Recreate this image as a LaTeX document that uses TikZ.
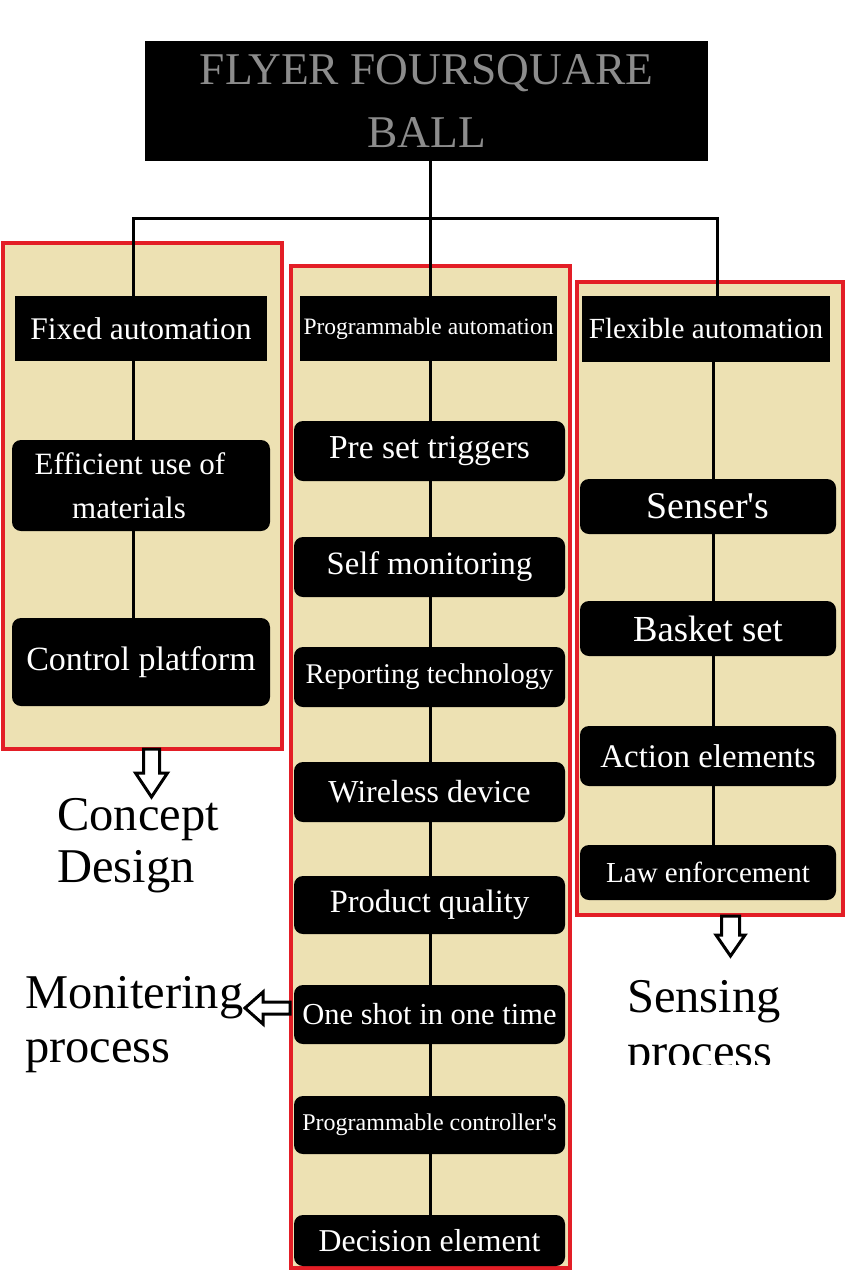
\documentclass[tikz,border=0pt]{standalone}
\usepackage{fontspec}
\setmainfont{Liberation Serif}
\newcommand\myfs[1]{\fontsize{#1}{#1}\selectfont}
\newcommand\myfsb[2]{\fontsize{#1}{#2}\selectfont}
\definecolor{panelbg}{HTML}{EDE1B3}
\definecolor{panelred}{HTML}{E31E26}
\definecolor{titlegray}{HTML}{8C8C8C}
\tikzset{
  panel/.style={fill=panelbg, draw=panelred, line width=4pt},
  box/.style={fill=black, text=white, inner sep=0pt, rounded corners=9pt, align=center},
  sqbox/.style={box, rounded corners=0pt},
  link/.style={draw=black, line width=3pt},
  hollow/.style={fill=white, draw=black, line width=3pt, line join=miter},
  lbl/.style={inner sep=0pt, anchor=base west, font=\myfs{48.5}},
}
\begin{document}
\begin{tikzpicture}[x=1pt,y=-1pt]
\useasboundingbox (0,0) rectangle (853,1280);
% panels
\draw[panel] (3,243) rectangle (282,749);
\draw[panel] (291,266) rectangle (570,1268);
\draw[panel] (577,282) rectangle (843,915);

% title
\node[sqbox, minimum width=563pt, minimum height=120pt, text=titlegray, font=\myfsb{45.4}{63}] (title) at (426.5,101) {FLYER FOURSQUARE\\BALL};

% left column
\node[sqbox, minimum width=252pt, minimum height=65pt, font=\myfs{31.5}] (fa) at (141,328.5) {Fixed automation};
\node[box, minimum width=258pt, minimum height=91pt, font=\myfsb{31}{44}] (eu) at (141,485.5) {Efficient use of\hspace*{22pt}\\materials\hspace*{24pt}};
\node[box, minimum width=258pt, minimum height=88pt, font=\myfs{34}] (cp) at (141,662) {Control platform};

% middle column
\node[sqbox, minimum width=257pt, minimum height=65pt, font=\myfs{23.5}] (pa) at (428.5,328.5) {Programmable automation};
\node[box, minimum width=271pt, minimum height=60pt, font=\myfs{33.5}] (pst) at (429.5,451) {Pre set triggers};
\node[box, minimum width=271pt, minimum height=60pt, font=\myfs{32.6}] (sm) at (429.5,567) {Self monitoring};
\node[box, minimum width=271pt, minimum height=60pt, font=\myfs{28.5}] (rt) at (429.5,677) {Reporting technology};
\node[box, minimum width=271pt, minimum height=60pt, font=\myfs{32}] (wd) at (429.5,792) {Wireless device};
\node[box, minimum width=271pt, minimum height=58pt, font=\myfs{32.5}] (pq) at (429.5,905) {Product quality};
\node[box, minimum width=271pt, minimum height=59pt, font=\myfs{30.5}] (os) at (429.5,1014.5) {One shot in one time};
\node[box, minimum width=271pt, minimum height=58pt, font=\myfs{24}] (pc) at (429.5,1125) {Programmable controller\textquotesingle s};
\node[box, minimum width=271pt, minimum height=51pt, font=\myfs{31.8}] (de) at (429.5,1240.5) {Decision element};

% right column
\node[sqbox, minimum width=248pt, minimum height=66pt, font=\myfs{29.2}] (fl) at (706,329) {Flexible automation};
\node[box, minimum width=256pt, minimum height=55pt, font=\myfs{37.8}] (se) at (708,506.5) {Senser\textquotesingle s};
\node[box, minimum width=256pt, minimum height=55pt, font=\myfs{36.7}] (bs) at (708,628.5) {Basket set};
\node[box, minimum width=256pt, minimum height=60pt, font=\myfs{33}] (ae) at (708,756) {Action elements};
\node[box, minimum width=256pt, minimum height=55pt, font=\myfs{29}] (le) at (708,872.5) {Law enforcement};

% connectors
\coordinate (lx) at (133,0);
\coordinate (mx) at (430,0);
\coordinate (rx) at (713,0);
\coordinate (jl) at (133,218);
\coordinate (jm) at (430,218);
\coordinate (jr) at (717,218);
\draw[link] (fa.north -| jl) -- (jl) -- (jr) -- (fl.north -| jr);
\draw[link] (title.south -| jm) -- (jm) -- (pa.north -| jm);
\foreach \a/\b in {fa/eu, eu/cp}
  \draw[link] (\a.south -| lx) -- (\b.north -| lx);
\foreach \a/\b in {pa/pst, pst/sm, sm/rt, rt/wd, wd/pq, pq/os, os/pc, pc/de}
  \draw[link] (\a.south -| mx) -- (\b.north -| mx);
\foreach \a/\b in {fl/se, se/bs, bs/ae, ae/le}
  \draw[link] (\a.south -| rx) -- (\b.north -| rx);

% hollow arrows
\draw[hollow] (143.5,749) -- (159.5,749) -- (159.5,773) -- (167.5,773) -- (151.5,797) -- (135.5,773) -- (143.5,773) -- cycle;
\draw[hollow] (721.5,916) -- (739.5,916) -- (739.5,935) -- (745,935) -- (730.5,956) -- (716,935) -- (721.5,935) -- cycle;
\draw[hollow] (290,1002) -- (263,1002) -- (263,992) -- (245,1008) -- (263,1024) -- (263,1014) -- (290,1014) -- cycle;

% labels
\node[lbl] (cd1) at (57,830) {Concept};
\node[lbl] (cd2) at (57,882) {Design};
\node[lbl] (mp1) at (25,1008) {Monitering};
\node[lbl] (mp2) at (25,1062) {process};
\begin{scope}
\clip (600,930) rectangle (853,1064);
\node[lbl] (sp1) at (627,1012) {Sensing};
\node[lbl] (sp2) at (627,1067) {process};
\end{scope}
\end{tikzpicture}
\end{document}
